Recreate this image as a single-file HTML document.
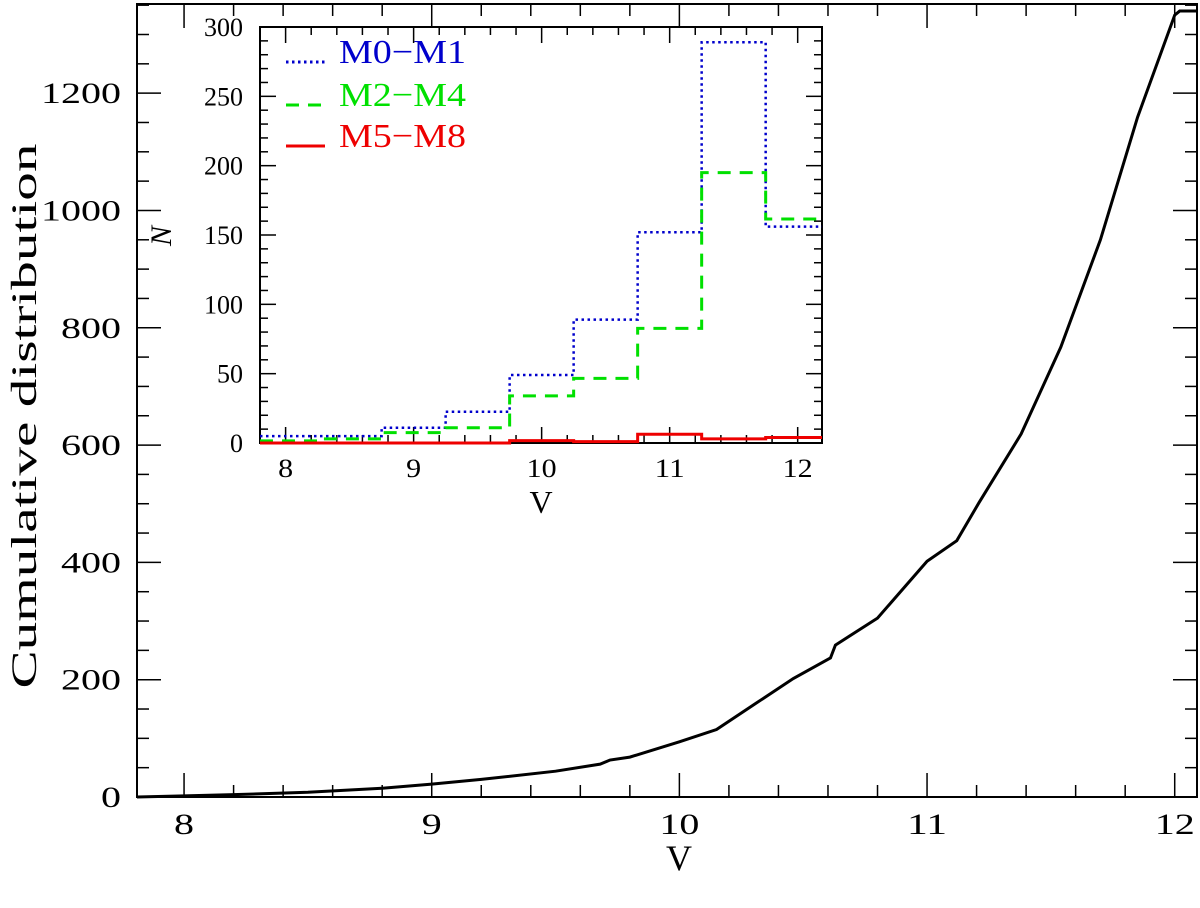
<!DOCTYPE html>
<html><head><meta charset="utf-8"><style>
body{margin:0;background:#fff}
svg text{font-family:"Liberation Serif",serif}
</style></head><body>
<svg id="chart" width="1200" height="903" viewBox="0 0 1200 903" xmlns="http://www.w3.org/2000/svg"></svg>
<script>
// main cumulative curve data
const cumV = [7.81,8.0,8.2,8.5,8.8,9.0,9.2,9.5,9.68,9.72,9.8,10.0,10.15,10.31,10.46,10.61,10.63,10.8,11.0,11.12,11.21,11.38,11.54,11.7,11.85,12.0,12.02,12.09];
const cumN = [0,2,4,8,15,22,30,44,56,63,68,94,115,160,202,237,259,305,402,437,502,619,767,950,1159,1333,1340,1340];
const mainXTicks = [8,9,10,11,12];
const mainYTicks = [0,200,400,600,800,1000,1200];
// inset histogram data
const binEdges = [7.75,8.25,8.75,9.25,9.75,10.25,10.75,11.25,11.75,12.25];
const histM0M1 = [5,5,11,22.5,49,89,152,289,156];
const histM2M4 = [1.5,3,7.5,11,34,46.6,82.7,195,161.5];
const histM5M8 = [0,0,0,0,1.7,1,6.3,3,4];
const insetXTicks = [8,9,10,11,12];
const insetYTicks = [0,50,100,150,200,250,300];

const NS="http://www.w3.org/2000/svg";
const svg=document.getElementById('chart');
function mk(tag,attrs,parent){const e=document.createElementNS(NS,tag);for(const k in attrs)e.setAttribute(k,attrs[k]);(parent||svg).appendChild(e);return e;}
function fit(t,w){t.setAttribute('textLength',w);t.setAttribute('lengthAdjust','spacingAndGlyphs');}

// main axes
const M={l:137,r:1197,t:4,b:797,x0:7.81,x1:12.09,y0:0,y1:1352};
const mx=v=>M.l+(v-M.x0)/(M.x1-M.x0)*(M.r-M.l);
const my=v=>M.b-(v-M.y0)/(M.y1-M.y0)*(M.b-M.t);
const frame=mk('rect',{x:M.l,y:M.t,width:M.r-M.l,height:M.b-M.t,fill:'none',stroke:'#000','stroke-width':2});


const tg=mk('g',{stroke:'#000','stroke-width':1.5});


for(let v=7.8;v<=12.09;v+=0.2){const vv=Math.round(v*10)/10;if(vv<M.x0)continue;const maj=Math.abs(vv-Math.round(vv))<1e-6;const L=maj?24:12;const x=mx(vv);
mk('line',{x1:x,x2:x,y1:M.b,y2:M.b-L},tg);mk('line',{x1:x,x2:x,y1:M.t,y2:M.t+L},tg);}
for(let v=0;v<=1350;v+=50){const maj=v%200===0;const L=maj?24:12;const y=my(v);
mk('line',{x1:M.l,x2:M.l+L,y1:y,y2:y},tg);mk('line',{x1:M.r,x2:M.r-L,y1:y,y2:y},tg);}
mainXTicks.forEach(v=>{const t=mk('text',{x:mx(v),y:834,'font-size':30,'text-anchor':'middle'});t.textContent=v;fit(t,String(v).length*20);

});
mainYTicks.forEach(v=>{const t=mk('text',{x:121,y:my(v)+10,'font-size':30,'text-anchor':'end'});t.textContent=v;fit(t,String(v).length*20);

});
const xt=mk('text',{x:679,y:870,'font-size':36,'text-anchor':'middle'});xt.textContent='V';


const yt=mk('text',{x:0,y:0,'font-size':36,'text-anchor':'middle',transform:'translate(36,416) rotate(-90)'});yt.textContent='Cumulative distribution';fit(yt,545);


const curve=mk('polyline',{points:cumV.map((v,i)=>mx(v)+','+my(cumN[i])).join(' '),fill:'none',stroke:'#000','stroke-width':3});



// inset
const I={l:260,r:822,t:27,b:443,x0:7.8,x1:12.19,y0:0,y1:300};
const ix=v=>I.l+(v-I.x0)/(I.x1-I.x0)*(I.r-I.l);
const iy=v=>I.b-(v-I.y0)/(I.y1-I.y0)*(I.b-I.t);
const ibg=mk('rect',{x:I.l,y:I.t,width:I.r-I.l,height:I.b-I.t,fill:'#fff',stroke:'#000','stroke-width':2});


const itg=mk('g',{stroke:'#000','stroke-width':1.5});


for(let v=7.8;v<=12.19;v+=0.2){const vv=Math.round(v*10)/10;const maj=Math.abs(vv-Math.round(vv))<1e-6;const L=maj?16:8;const x=ix(vv);
mk('line',{x1:x,x2:x,y1:I.b,y2:I.b-L},itg);mk('line',{x1:x,x2:x,y1:I.t,y2:I.t+L},itg);}
for(let v=0;v<=300;v+=10){const maj=v%50===0;const L=maj?16:8;const y=iy(v);
mk('line',{x1:I.l,x2:I.l+L,y1:y,y2:y},itg);mk('line',{x1:I.r,x2:I.r-L,y1:y,y2:y},itg);}
insetXTicks.forEach(v=>{const t=mk('text',{x:ix(v),y:477,'font-size':26,'text-anchor':'middle'});t.textContent=v;fit(t,String(v).length*15);

});
insetYTicks.forEach(v=>{const t=mk('text',{x:243,y:iy(v)+9,'font-size':26,'text-anchor':'end'});t.textContent=v;fit(t,String(v).length*13);

});
const ixt=mk('text',{x:541,y:513,'font-size':32,'text-anchor':'middle'});ixt.textContent='V';


const iyt=mk('text',{x:0,y:0,'font-size':30,'font-style':'italic','text-anchor':'middle',transform:'translate(171,236) rotate(-90)'});iyt.textContent='N';



function stepPts(vals){let p=[];vals.forEach((v,i)=>{const a=Math.max(binEdges[i],I.x0),b=Math.min(binEdges[i+1],I.x1);p.push(ix(a)+','+iy(v));p.push(ix(b)+','+iy(v));});return p.join(' ');}
const hb=mk('polyline',{points:stepPts(histM0M1),fill:'none',stroke:'#0000cc','stroke-width':2.5,'stroke-dasharray':'2.5 3.5'});


const hg=mk('polyline',{points:stepPts(histM2M4),fill:'none',stroke:'#00e000','stroke-width':3,'stroke-dasharray':'13 9'});


const hr=mk('polyline',{points:stepPts(histM5M8),fill:'none',stroke:'#ee0000','stroke-width':3});



// legend
const leg=[['M0\u2212M1','#0000cc','2.5 3.5',62],['M2\u2212M4','#00e000','13 9',105],['M5\u2212M8','#ee0000','',146]];
leg.forEach(([lab,col,dash,ly])=>{
const ln=mk('line',{x1:286,x2:325,y1:ly,y2:ly,stroke:col,'stroke-width':3,'stroke-dasharray':dash});


const t=mk('text',{x:339,y:ly+1,'font-size':34,fill:col});t.textContent=lab;fit(t,127);

});
</script>
</body></html>
